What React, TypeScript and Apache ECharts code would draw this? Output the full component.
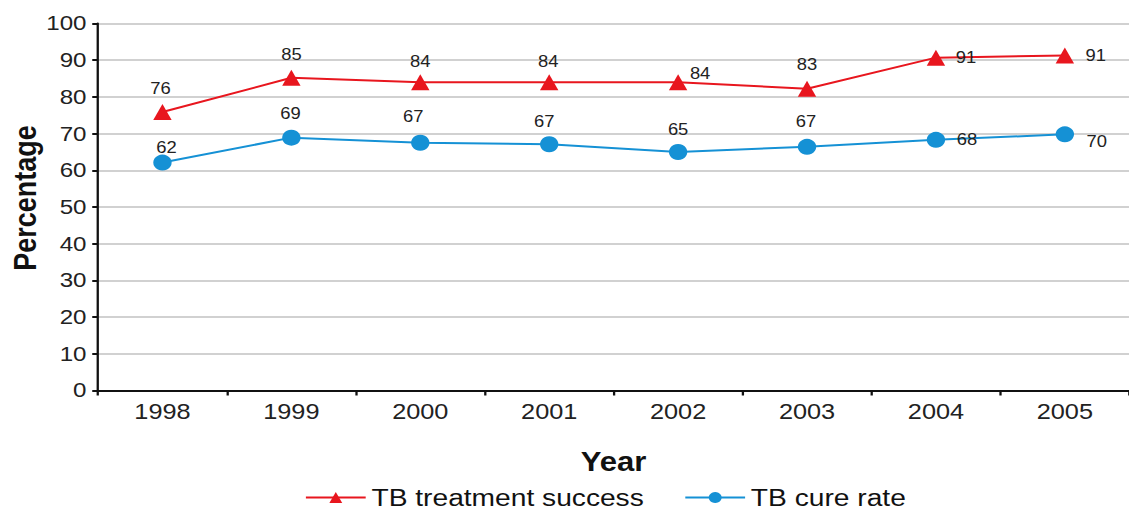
import React, { useEffect, useRef } from 'react';
import * as echarts from 'echarts';

const years = ['1998', '1999', '2000', '2001', '2002', '2003', '2004', '2005'];
const successValues = [75.9, 85.2, 84.0, 84.0, 84.0, 82.2, 90.7, 91.3];
const successLabels = [76, 85, 84, 84, 84, 83, 91, 91];
const cureValues = [62.1, 68.9, 67.5, 67.1, 65.0, 66.4, 68.3, 69.8];
const cureLabels = [62, 69, 67, 67, 65, 67, 68, 70];

// label offsets in reference pixels (dx, dy) from the point
const successOffsets = [[-2, -24], [0, -23], [0, -21], [-1, -21], [22, -9], [0, -24], [30, 0], [31, 0]];
const cureOffsets = [[4, -15], [-1, -24], [-7, -26], [-5, -23], [0, -23], [-1, -25], [31, 0], [32, 7]];

const SX = 1.15;
const W = 1129 / SX;
const H = 512;
const FONT = '"Liberation Sans", Arial, sans-serif';
const RED = '#e8161e';
const BLUE = '#1591d5';

function buildData(values: number[], labels: number[], offsets: number[][]) {
  return values.map((v, i) => ({
    value: v,
    label: {
      show: true,
      position: 'inside',
      offset: [offsets[i][0] / SX, offsets[i][1]],
      formatter: String(labels[i]),
    },
  }));
}

export default function App() {
  const ref = useRef<HTMLDivElement>(null);
  useEffect(() => {
    if (!ref.current) return;
    const chart = echarts.init(ref.current, undefined, { renderer: 'svg' });
    const labelStyle = { fontFamily: FONT, fontSize: 16, color: '#222' };
    chart.setOption({
      animation: false,
      backgroundColor: '#fff',
      textStyle: { fontFamily: FONT },
      grid: {
        left: 98 / SX,
        right: 0,
        top: 23.5,
        bottom: 121.5,
        containLabel: false,
        outerBoundsMode: 'none',
      },
      graphic: [
        {
          type: 'text',
          x: 25 / SX,
          y: 198,
          rotation: Math.PI / 2,
          style: {
            text: 'Percentage',
            fontFamily: FONT,
            fontSize: 27,
            fontWeight: 'bold',
            fill: '#111',
            align: 'center',
            verticalAlign: 'middle',
          },
        },
      ],
      legend: {
        left: 265,
        top: 485,
        padding: 0,
        itemWidth: 52,
        itemHeight: 14,
        itemGap: 35,
        textStyle: { fontFamily: FONT, fontSize: 24.5, color: '#111' },
        data: ['TB treatment success', 'TB cure rate'],
      },
      xAxis: {
        type: 'category',
        data: years,
        boundaryGap: true,
        name: 'Year',
        nameLocation: 'middle',
        nameGap: 58,
        nameTextStyle: { fontFamily: FONT, fontSize: 27, fontWeight: 'bold', color: '#111' },
        axisLine: { lineStyle: { color: '#111', width: 2 } },
        axisTick: { show: true, length: 5, alignWithLabel: false, lineStyle: { color: '#111', width: 2 } },
        axisLabel: { fontFamily: FONT, fontSize: 22, color: '#222', margin: 10 },
        splitLine: { show: false },
      },
      yAxis: {
        type: 'value',
        min: 0,
        max: 100,
        interval: 10,
        axisLine: { show: true, lineStyle: { color: '#111', width: 2 } },
        axisTick: { show: true, length: 5, lineStyle: { color: '#111', width: 2 } },
        axisLabel: { fontFamily: FONT, fontSize: 21, color: '#222', margin: 10 },
        splitLine: { show: true, lineStyle: { color: '#c2c2c2', width: 1.5 } },
      },
      series: [
        {
          name: 'TB treatment success',
          type: 'line',
          data: buildData(successValues, successLabels, successOffsets),
          symbol: 'triangle',
          symbolSize: 16,
          itemStyle: { color: RED },
          lineStyle: { color: RED, width: 2 },
          label: labelStyle,
          z: 3,
        },
        {
          name: 'TB cure rate',
          type: 'line',
          data: buildData(cureValues, cureLabels, cureOffsets),
          symbol: 'circle',
          symbolSize: 16,
          itemStyle: { color: BLUE },
          lineStyle: { color: BLUE, width: 2 },
          label: labelStyle,
          z: 2,
        },
      ],
    });
    return () => chart.dispose();
  }, []);

  return (
    <div
      style={{
        position: 'absolute',
        left: 0,
        top: 0,
        width: 1129,
        height: H,
        overflow: 'hidden',
        background: '#fff',
      }}
    >
      <div
        ref={ref}
        style={{
          width: W,
          height: H,
          transform: `scaleX(${SX})`,
          transformOrigin: '0 0',
        }}
      />
    </div>
  );
}
